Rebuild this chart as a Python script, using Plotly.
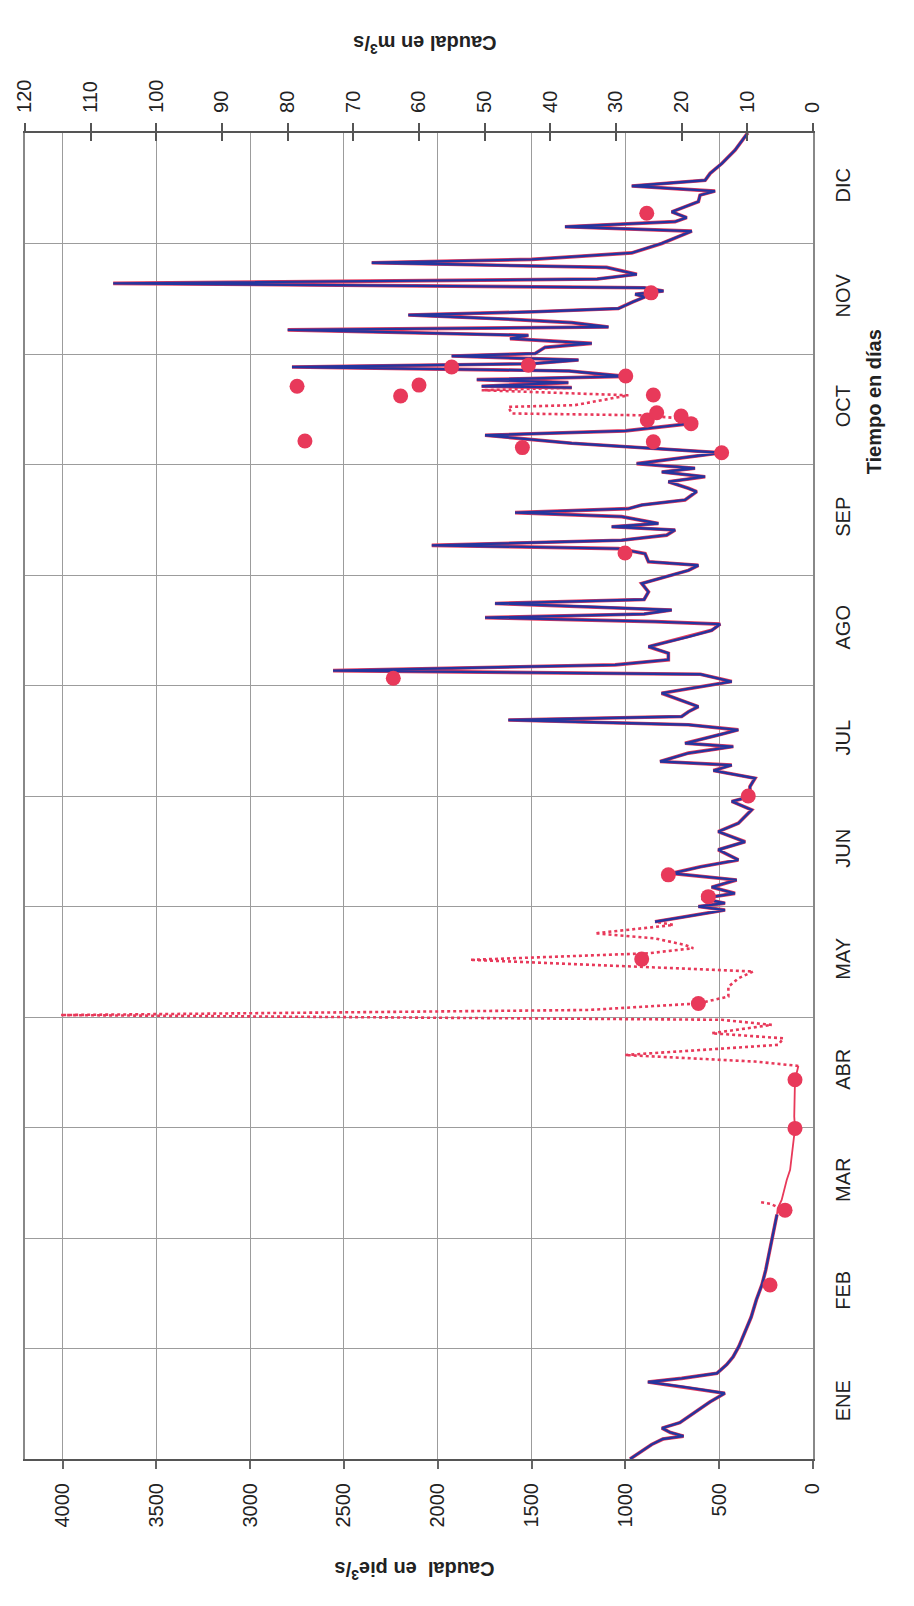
import plotly.graph_objects as go

# --- Axis labels -----------------------------------------------------------
months = ["ENE", "FEB", "MAR", "ABR", "MAY", "JUN",
          "JUL", "AGO", "SEP", "OCT", "NOV", "DIC"]
cfs_ticks = [0, 500, 1000, 1500, 2000, 2500, 3000, 3500, 4000]
cms_ticks = [0, 10, 20, 30, 40, 50, 60, 70, 80, 90, 100, 110, 120]

# --- Simulated daily discharge (pie3/s), day of year -------------------------
sim_days_a = [0, 2, 4, 5.5, 6.3, 7.3, 8.5, 10, 12, 14, 15.7, 18.1, 19.8, 21.2,
              22.2, 23.6, 26, 28.1, 31, 34.7, 39, 43.8, 48, 52, 56, 59.5, 63, 67.3]
sim_flow_a = [975, 920, 860, 800, 690, 760, 805, 710, 655, 600, 550, 470, 680, 880,
              700, 512, 460, 426, 395, 365, 330, 302, 272, 252, 236, 222, 208, 192]

sim_days_b = [147.9, 149.5, 151.1, 152.1, 153.0, 154.3, 155.7, 157.4, 159.4, 161.2,
              163.0, 164.9, 167.7, 169.9, 172.7, 175.0, 178.7, 181.0, 182.3, 185.1,
              187.4, 189.5, 191.0, 192.0, 194.3, 196.1, 197.0, 199.3, 200.7, 202.1,
              203.4, 204.4, 205.7, 207.1, 210.8, 214.0, 216.0, 217.0, 218.6, 220.0,
              221.8, 223.6, 226.3, 228.1, 229.8, 230.5, 231.6, 232.6, 233.7, 234.6,
              235.5, 236.6, 238.7, 241.0, 244.6, 246.0, 247.0, 249.2, 250.6, 251.5,
              252.9, 254.3, 255.7, 256.6, 257.5, 259.4, 260.5, 261.6, 262.6, 264.0,
              266.3, 267.2, 269.0, 270.4, 271.7, 272.7, 274.0, 277.0, 279.6, 281.8,
              283.0, 285.0, 286.4]
sim_flow_b = [842, 650, 469, 611, 469, 593, 416, 540, 407, 753,
              600, 398, 505, 362, 505, 398, 327, 433, 336, 336,
              309, 531, 433, 815, 664, 425, 682, 505, 398, 664,
              1624, 700, 664, 611, 807, 433, 600, 2558, 1055, 771,
              771, 877, 664, 540, 495, 842, 1748, 900, 753, 1197,
              1695, 900, 877, 913, 664, 611, 877, 895, 1037, 2032,
              1020, 780, 735, 1073, 824, 1020, 1588, 984, 913, 682,
              620, 664, 771, 575, 806, 629, 940, 487, 1286, 1748,
              1000, 655, 691]

sim_days_c = [294.9, 295.3, 296.3, 297.1, 298.0, 299.5, 300.6, 301.5, 302.5, 303.6,
              304.3, 306.0, 307.1, 308.0, 308.4, 309.3, 310.8, 311.6, 312.8, 313.7,
              314.9, 315.8, 316.7, 318.5, 319.9, 320.6, 321.5, 322.4, 323.6, 324.8,
              326.1, 328.0, 329.3, 330.2, 332.0, 334.6, 338.0, 339.2, 340.6, 341.7,
              343.3, 346.1, 347.9, 349.0, 350.4, 352.0, 353.9, 356.6, 360.3, 365.0]
sim_flow_c = [1286, 1766, 1304, 1792, 998, 1300, 2777, 1500, 1250, 1926,
              1481, 1428, 1179, 1481, 1615, 1517, 2800, 1090, 1286, 1606,
              2157, 1482, 1037, 960, 895, 948, 797, 900, 3730, 1150,
              939, 1100, 2352, 1499, 966, 806, 646, 1322, 735, 673,
              753, 611, 602, 522, 966, 575, 548, 486, 415, 348]

# --- Observed discharge: estimated / interpolated stretches -----------------
obs_days_mar = [67.3, 69, 71.3, 76.8, 79.6, 85, 91, 94.3, 98, 104.4, 108.2]
obs_flow_mar = [192, 188, 167, 140, 122, 110, 96, 100, 98, 96, 78]

obs_days_gap1 = [69.6, 70.2, 70.8]
obs_flow_gap1 = [200, 225, 291]

obs_days_may = [108.2, 109.4, 111.2, 114.0, 115.8, 117.2, 119.5, 120.9, 122.2, 123.6,
                125.4, 127.3, 130.0, 132.3, 134.2, 137.4, 139.2, 140.6, 141.5, 143.3,
                144.7, 147.0, 147.9]
obs_flow_may = [78, 309, 1002, 185, 158, 540, 220, 487, 4010, 1197,
                611, 451, 451, 398, 318, 1828, 878, 638, 682, 842,
                1162, 744, 842]

obs_days_oct = [286.4, 287.3, 287.8, 289.6, 290.1, 292.8, 294.2, 294.9]
obs_flow_oct = [691, 913, 1606, 1624, 1268, 984, 1766, 1286]

# --- Gauged point measurements -----------------------------------------------
meas_days = [47.9, 68.5, 91.0, 104.4, 125.4, 137.6, 154.8, 160.8, 182.5, 214.9,
             249.4, 277.0, 278.4, 280.0, 280.2, 285.0, 286.0, 287.1, 288.0, 292.6,
             292.9, 295.3, 295.6, 298.1, 300.6, 301.1, 321.0, 342.9]
meas_flow = [229, 149, 96, 96, 611, 913, 558, 771, 345, 2237,
             1002, 487, 1549, 851, 2708, 650, 883, 703, 833, 2198,
             851, 2750, 2100, 998, 1926, 1517, 863, 886]

YEAR = 365
CFS_MAX = 4200
CMS_MAX = 120
RED = "#e8395a"
BLUE = "#24359e"
FONT = "Liberation Sans, Arial, sans-serif"

sim_days = sim_days_a + [None] + sim_days_b + [None] + sim_days_c
sim_flow = sim_flow_a + [None] + sim_flow_b + [None] + sim_flow_c

fig = go.Figure()

# observed series (red) under the simulated line
fig.add_trace(go.Scatter(x=sim_flow, y=sim_days, mode="lines",
                         line=dict(color=RED, width=3.6), connectgaps=False,
                         hoverinfo="skip", showlegend=False))
fig.add_trace(go.Scatter(x=obs_flow_mar, y=obs_days_mar, mode="lines",
                         line=dict(color=RED, width=1.8), showlegend=False))
for fx, dy in ((obs_flow_gap1, obs_days_gap1), (obs_flow_may, obs_days_may),
               (obs_flow_oct, obs_days_oct)):
    fig.add_trace(go.Scatter(x=fx, y=dy, mode="lines",
                             line=dict(color=RED, width=2.6, dash="dot"),
                             showlegend=False))

# simulated series
fig.add_trace(go.Scatter(x=sim_flow, y=sim_days, mode="lines",
                         line=dict(color=BLUE, width=2.4), connectgaps=False,
                         showlegend=False))

# point measurements
fig.add_trace(go.Scatter(x=meas_flow, y=meas_days, mode="markers",
                         marker=dict(color=RED, size=15, line=dict(width=0)),
                         showlegend=False))

# empty traces so the secondary axes get drawn
fig.add_trace(go.Scatter(x=[], y=[], xaxis="x2", yaxis="y", showlegend=False))
fig.add_trace(go.Scatter(x=[], y=[], xaxis="x3", yaxis="y", showlegend=False))
fig.add_trace(go.Scatter(x=[], y=[], xaxis="x", yaxis="y2", showlegend=False))

month_edges = [YEAR * i / 12 for i in range(13)]
month_mids = [YEAR * (i + 0.5) / 12 for i in range(12)]

tickfont = dict(family=FONT, size=20, color="#222")

fig.update_layout(
    width=914, height=1606,
    margin=dict(l=25, r=101, t=133, b=147),
    paper_bgcolor="white", plot_bgcolor="white",
    showlegend=False,
    xaxis=dict(range=[CFS_MAX, 0], autorange=False,
               tickmode="array", tickvals=cfs_ticks, ticktext=[str(v) for v in cfs_ticks],
               tickangle=-90, tickfont=tickfont,
               ticks="outside", ticklen=8, tickcolor="#666", tickwidth=1.5,
               ticklabelstandoff=6,
               showgrid=True, gridcolor="#9c9c9c", gridwidth=1.2,
               showline=True, linecolor="#555", linewidth=2.2,
               zeroline=False),
    xaxis2=dict(range=[CMS_MAX, 0], autorange=False, overlaying="x", side="top",
                anchor="y",
                tickmode="array", tickvals=cms_ticks, ticktext=[str(v) for v in cms_ticks],
                tickangle=-90, tickfont=tickfont,
                ticks="outside", ticklen=8, tickcolor="#555", tickwidth=2,
                ticklabelstandoff=6,
                showgrid=False, showline=True, linecolor="#555", linewidth=2.2,
                zeroline=False),
    xaxis3=dict(range=[CMS_MAX, 0], autorange=False, overlaying="x", side="top",
                anchor="y",
                tickmode="array", tickvals=cms_ticks,
                ticks="inside", ticklen=8, tickcolor="#555", tickwidth=2,
                showticklabels=False, showgrid=False, showline=False,
                zeroline=False),
    yaxis=dict(range=[0, YEAR], autorange=False, side="right",
               tickmode="array", tickvals=month_edges, showticklabels=False,
               ticks="", showgrid=True, gridcolor="#9c9c9c", gridwidth=1.2,
               showline=True, linecolor="#888", linewidth=1.6, mirror=True,
               zeroline=False),
    yaxis2=dict(range=[0, YEAR], autorange=False, overlaying="y", side="right",
                anchor="x",
                tickmode="array", tickvals=month_mids, ticktext=months,
                tickangle=-90, tickfont=tickfont, ticks="",
                ticklabelstandoff=16,
                showgrid=False, showline=False, zeroline=False),
)

title_font = dict(family=FONT, size=20, color="#222")
fig.add_annotation(text="<b>Caudal en m<sup>3</sup>/s</b>", xref="paper", yref="paper",
                   x=0.508, y=1.0777, showarrow=False, textangle=180, font=title_font)
fig.add_annotation(text="<b>Caudal  en pie<sup>3</sup>/s</b>", xref="paper", yref="paper",
                   x=0.494, y=-0.095, showarrow=False, textangle=180, font=title_font)
fig.add_annotation(text="<b>Tiempo en días</b>", xref="paper", yref="paper",
                   x=1.095, y=0.8537, showarrow=False, textangle=-90, font=title_font)

fig.write_html("out.html")
